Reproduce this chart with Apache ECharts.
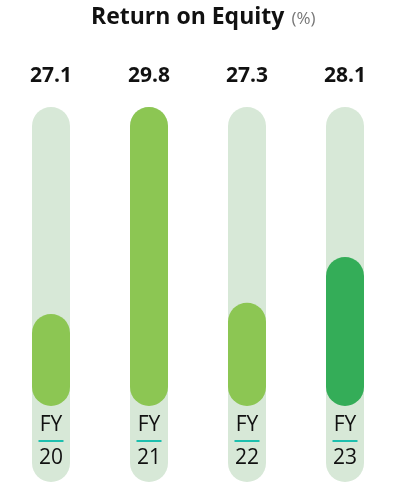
<!DOCTYPE html>
<html>
<head>
<meta charset="utf-8">
<script src="https://cdn.jsdelivr.net/npm/echarts@6/dist/echarts.min.js"></script>
<style>
  html, body { margin: 0; padding: 0; background: #fff; }
  #chart { width: 400px; height: 483px; }
</style>
</head>
<body>
<div id="chart"></div>
<script>
// values
var years = ['20', '21', '22', '23'];
var roe = [27.1, 29.8, 27.3, 28.1];
// filled part of each pill, as % of the pill height (above the label area)
var fillLevel = [24.5, 79.7, 27.5, 39.7];
var fillColor = ['#8cc653', '#8cc653', '#8cc653', '#34ad58'];

var TRACK = 100;      // full pill
var BASE = 20.3;      // space kept for the FY label inside the pill
var FONT = '"Open Sans"';

var trackData = [], baseData = [], fillData = [];
for (var i = 0; i < years.length; i++) {
    trackData.push({ value: TRACK, label: { formatter: roe[i].toFixed(1) } });
    baseData.push(BASE);
    fillData.push({ value: fillLevel[i], itemStyle: { color: fillColor[i] } });
}

var myChart = echarts.init(document.getElementById('chart'), null, { renderer: 'canvas' });
var option = {
    animation: false,
    title: {
        text: '{a|Return on Equity} {b|(%)}',
        left: 91,
        top: 6,
        padding: 0,
        textStyle: {
            rich: {
                a: { fontFamily: FONT, fontSize: 23, fontWeight: 'bold', color: '#111' },
                b: { fontFamily: FONT, fontSize: 17, fontWeight: 'normal', color: '#777', padding: [4, 0, 0, 2] }
            }
        }
    },
    grid: { left: 2, right: 6, top: 107, bottom: 1 },
    xAxis: {
        type: 'category',
        data: years,
        z: 10,
        axisLine: { show: false },
        axisTick: { show: false },
        splitLine: { show: false },
        axisLabel: {
            margin: -68,
            formatter: function (v) { return '{fy|FY}\n{ln|}\n{yr|' + v + '}'; },
            rich: {
                fy: { fontFamily: FONT, fontSize: 21, fontWeight: 'normal', color: '#111', lineHeight: 22, align: 'center' },
                ln: { width: 25, height: 2, backgroundColor: '#1dbfae', lineHeight: 10, align: 'center' },
                yr: { fontFamily: FONT, fontSize: 21, fontWeight: 'normal', color: '#111', lineHeight: 24, align: 'center' }
            }
        }
    },
    yAxis: {
        type: 'value',
        min: 0,
        max: TRACK,
        show: false
    },
    series: [
        {
            type: 'bar',
            data: trackData,
            barWidth: 38,
            barGap: '-100%',
            z: 1,
            itemStyle: { color: '#d7e8d7', borderRadius: 19 },
            label: {
                show: true,
                position: 'top',
                distance: 20,
                fontFamily: FONT,
                fontSize: 21,
                fontWeight: 'bold',
                color: '#111'
            },
            silent: true
        },
        {
            type: 'bar',
            stack: 'fill',
            data: baseData,
            barWidth: 38,
            barGap: '-100%',
            z: 2,
            itemStyle: { color: 'transparent' },
            silent: true
        },
        {
            type: 'bar',
            stack: 'fill',
            data: fillData,
            barWidth: 38,
            barGap: '-100%',
            z: 3,
            itemStyle: { borderRadius: 19 }
        }
    ]
};
myChart.setOption(option);
</script>
</body>
</html>
